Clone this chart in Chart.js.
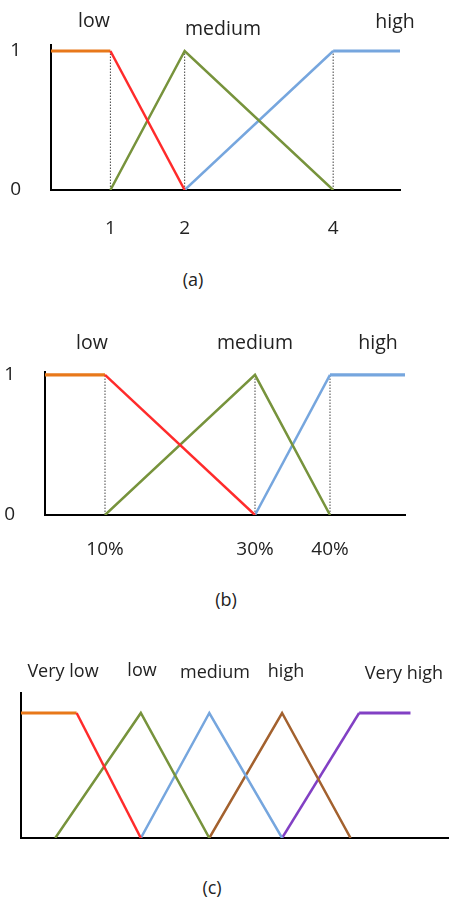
<!DOCTYPE html>
<html>
<head>
<meta charset="utf-8">
<script src="https://cdn.jsdelivr.net/npm/chart.js@4.4.1/dist/chart.umd.min.js"></script>
<style>
  html, body { margin: 0; padding: 0; background: #fff; }
  body { width: 449px; height: 897px; position: relative; overflow: hidden;
         font-family: 'Open Sans', sans-serif; color: #222; }
  canvas { position: absolute; left: 0; }
  .lbl { position: absolute; transform: translate(-50%, -50%); white-space: nowrap; font-size: 19.5px; line-height: 1; }
  .sm { font-size: 18px; }
</style>
</head>
<body>
<canvas id="chartA" width="449" height="260" style="top:0"></canvas>
<canvas id="chartB" width="449" height="260" style="top:320px"></canvas>
<canvas id="chartC" width="449" height="200" style="top:640px"></canvas>

<div class="lbl" style="left:94px;top:20px">low</div>
<div class="lbl" style="left:223px;top:28px">medium</div>
<div class="lbl" style="left:395px;top:21px">high</div>
<div class="lbl sm" style="left:193px;top:279px">(a)</div>

<div class="lbl" style="left:92px;top:342px">low</div>
<div class="lbl" style="left:255px;top:342px">medium</div>
<div class="lbl" style="left:378px;top:342px">high</div>
<div class="lbl sm" style="left:226px;top:599px">(b)</div>

<div class="lbl sm" style="left:63px;top:670px">Very low</div>
<div class="lbl sm" style="left:142px;top:669px">low</div>
<div class="lbl sm" style="left:215px;top:671px">medium</div>
<div class="lbl sm" style="left:286px;top:670px">high</div>
<div class="lbl sm" style="left:404px;top:672px">Very high</div>
<div class="lbl sm" style="left:212px;top:887px">(c)</div>

<script>
// ---- (a) universe and membership breakpoints ----
const universeA = [0.2, 4.9];
const ticksA = [1, 2, 4];
const tickLabelsA = ['1', '2', '4'];
const lowA_x = [0.2, 1, 2];      const lowA_y = [1, 1, 0];
const medA_x = [1, 2, 4];        const medA_y = [0, 1, 0];
const highA_x = [2, 4, 4.9];     const highA_y = [0, 1, 1];
const guidesA = [1, 2, 4];

// ---- (b) universe (percent) and membership breakpoints ----
const universeB = [2, 50];
const ticksB = [10, 30, 40];
const tickLabelsB = ['10%', '30%', '40%'];
const lowB_x = [2, 10, 30];      const lowB_y = [1, 1, 0];
const medB_x = [10, 30, 40];     const medB_y = [0, 1, 0];
const highB_x = [30, 40, 50];    const highB_y = [0, 1, 1];
const guidesB = [10, 30, 40];

// ---- (c) five-term partition on a 0-100 universe ----
const universeC = [0, 100];
const vlowC_x = [0, 13, 28];     const vlowC_y = [1, 1, 0];
const lowC_x = [8, 28, 44];      const lowC_y = [0, 1, 0];
const medC_x = [28, 44, 61];     const medC_y = [0, 1, 0];
const highC_x = [44, 61, 77];    const highC_y = [0, 1, 0];
const vhighC_x = [61, 79, 91];   const vhighC_y = [0, 1, 1];

const membershipTicks = [0, 1];
const membershipLabels = ['0', '1'];

const ORANGE = '#E8781A', RED = '#FF2B2B', GREEN = '#77933C', BLUE = '#76A6DE',
      BROWN = '#A3612E', PURPLE = '#8240C4';

const pts = (xs, ys) => xs.map((x, i) => ({ x, y: ys[i] }));

// plateau segments in a different colour/width from the slope
function termLine(xs, ys, slopeColor, flatColor) {
  const flat = c => c.p0.parsed.y === 1 && c.p1.parsed.y === 1;
  return {
    data: pts(xs, ys),
    borderColor: slopeColor,
    borderWidth: 2.5,
    pointRadius: 0,
    tension: 0,
    segment: {
      borderColor: c => flat(c) ? flatColor : slopeColor,
      borderWidth: c => flat(c) ? 3.2 : 2.5
    }
  };
}

function guideLines(xs) {
  return xs.map(x => ({
    data: [{ x, y: 0 }, { x, y: 1 }],
    borderColor: '#444',
    borderWidth: 1,
    borderDash: [1.5, 1.5],
    pointRadius: 0,
    order: 10
  }));
}

const tickFont = { family: 'Open Sans', size: 19 };

function makeChart(id, cfg) {
  const showTicks = !!cfg.xTicks;
  return new Chart(document.getElementById(id), {
    type: 'line',
    data: { datasets: cfg.datasets },
    options: {
      responsive: false,
      animation: false,
      events: [],
      layout: { padding: cfg.padding },
      plugins: { legend: { display: false }, tooltip: { enabled: false } },
      scales: {
        x: {
          type: 'linear',
          min: cfg.universe[0],
          max: cfg.universe[1],
          grid: { display: false, drawTicks: false },
          border: { display: true, color: '#000', width: 2 },
          afterBuildTicks: s => { s.ticks = (cfg.xTicks || []).map(v => ({ value: v })); },
          afterFit: s => { s.height = cfg.xHeight; },
          ticks: {
            display: showTicks,
            autoSkip: false,
            maxRotation: 0,
            padding: cfg.xPad,
            color: '#222',
            font: tickFont,
            callback: v => showTicks ? cfg.xLabels[cfg.xTicks.indexOf(v)] : ''
          }
        },
        y: {
          type: 'linear',
          min: 0,
          max: cfg.yMax,
          grid: { display: false, drawTicks: false },
          border: { display: true, color: '#000', width: 2 },
          afterBuildTicks: s => { s.ticks = showTicks ? membershipTicks.map(v => ({ value: v })) : []; },
          afterFit: s => { s.width = cfg.yWidth; },
          ticks: {
            display: showTicks,
            padding: cfg.yPad,
            color: '#222',
            font: tickFont,
            callback: v => membershipLabels[membershipTicks.indexOf(v)]
          }
        }
      }
    }
  });
}

makeChart('chartA', {
  universe: universeA,
  xTicks: ticksA, xLabels: tickLabelsA,
  yMax: 1.043,
  padding: { top: 45, right: 49, left: 0, bottom: 0 },
  xHeight: 70, yWidth: 51, xPad: 27, yPad: 30,
  datasets: [
    termLine(lowA_x, lowA_y, RED, ORANGE),
    termLine(medA_x, medA_y, GREEN, GREEN),
    termLine(highA_x, highA_y, BLUE, BLUE),
    ...guideLines(guidesA)
  ]
});

makeChart('chartB', {
  universe: universeB,
  xTicks: ticksB, xLabels: tickLabelsB,
  yMax: 1.02,
  padding: { top: 52, right: 44, left: 0, bottom: 0 },
  xHeight: 65, yWidth: 45, xPad: 23, yPad: 30,
  datasets: [
    termLine(lowB_x, lowB_y, RED, ORANGE),
    termLine(medB_x, medB_y, GREEN, GREEN),
    termLine(highB_x, highB_y, BLUE, BLUE),
    ...guideLines(guidesB)
  ]
});

makeChart('chartC', {
  universe: universeC,
  xTicks: null, xLabels: null,
  yMax: 1.16,
  padding: { top: 53, right: 0, left: 0, bottom: 0 },
  xHeight: 2, yWidth: 21, xPad: 0, yPad: 0,
  datasets: [
    termLine(vlowC_x, vlowC_y, RED, ORANGE),
    termLine(lowC_x, lowC_y, GREEN, GREEN),
    termLine(medC_x, medC_y, BLUE, BLUE),
    termLine(highC_x, highC_y, BROWN, BROWN),
    termLine(vhighC_x, vhighC_y, PURPLE, PURPLE)
  ]
});
</script>
</body>
</html>
